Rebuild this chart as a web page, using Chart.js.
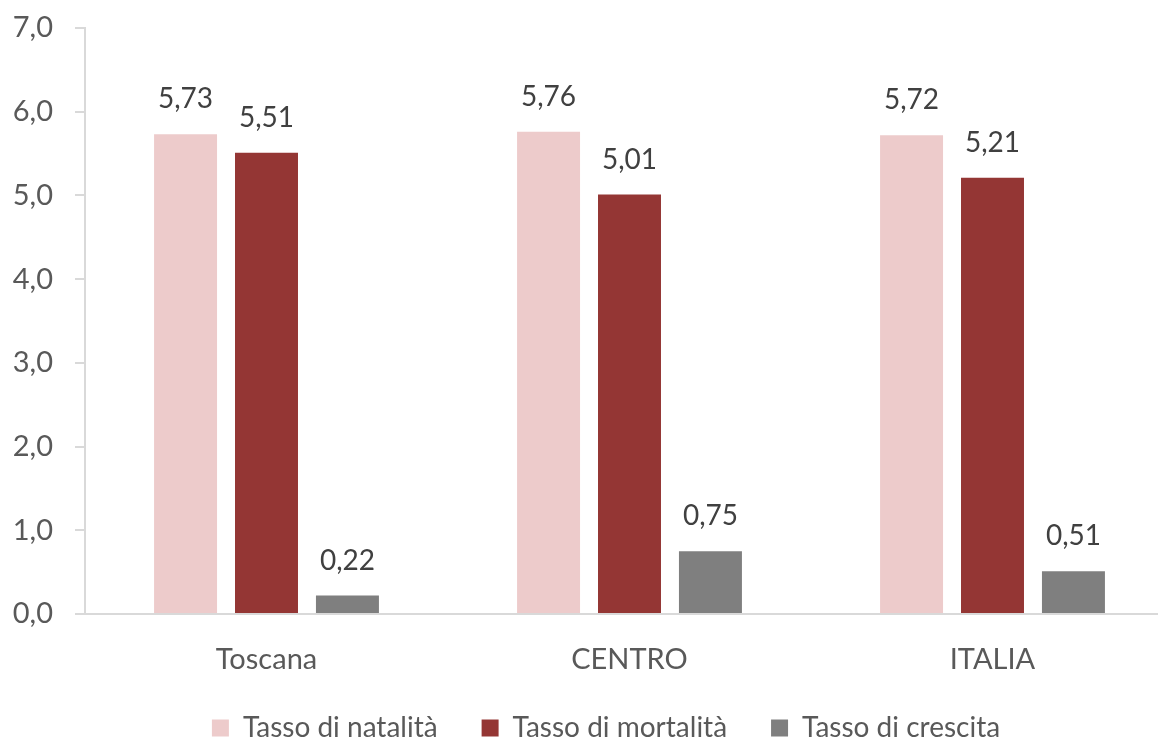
<!DOCTYPE html>
<html>
<head>
<meta charset="utf-8">
<script src="https://cdn.jsdelivr.net/npm/chart.js@4.4.1/dist/chart.umd.min.js"></script>
<style>
  html, body { margin: 0; padding: 0; background: #ffffff; overflow: hidden; }
  #wrap { width: 1158px; height: 742px; overflow: hidden; position: relative; }
  canvas { display: block; }
</style>
</head>
<body>
<div id="wrap"><canvas id="chart" width="1212" height="752"></canvas></div>
<script>
// Demographic rates per area
const categories = ['Toscana', 'CENTRO', 'ITALIA'];
const seriesNames = ['Tasso di natalità', 'Tasso di mortalità', 'Tasso di crescita'];
const natalita = [5.73, 5.76, 5.72];
const mortalita = [5.51, 5.01, 5.21];
const crescita = [0.22, 0.75, 0.51];
const yTicks = [0, 1, 2, 3, 4, 5, 6, 7];

const FONT = 'Lato, "Open Sans", sans-serif';
const fmt = (v, d) => v.toFixed(d).replace('.', ',');

// Draws each bar's value above it, using the bar element's own position
const valueLabels = {
  id: 'valueLabels',
  afterDatasetsDraw(chart) {
    const ctx = chart.ctx;
    ctx.save();
    ctx.font = '28px ' + FONT;
    ctx.fillStyle = '#404040';
    ctx.textAlign = 'center';
    ctx.textBaseline = 'alphabetic';
    chart.data.datasets.forEach((ds, i) => {
      chart.getDatasetMeta(i).data.forEach((bar, j) => {
        ctx.fillText(fmt(ds.data[j], 2), bar.x, bar.y - 26);
      });
    });
    ctx.restore();
  }
};

new Chart(document.getElementById('chart'), {
  type: 'bar',
  data: {
    labels: categories,
    datasets: [
      { label: seriesNames[0], data: natalita, backgroundColor: '#EDCBCB' },
      { label: seriesNames[1], data: mortalita, backgroundColor: '#943634' },
      { label: seriesNames[2], data: crescita, backgroundColor: '#7F7F7F' }
    ]
  },
  options: {
    responsive: false,
    animation: false,
    devicePixelRatio: 1,
    categoryPercentage: 0.669,
    barPercentage: 0.778,
    layout: { padding: { left: 0, right: 0, top: 28, bottom: 0 } },
    plugins: {
      legend: {
        position: 'bottom',
        labels: {
          font: { family: FONT, size: 28 },
          color: '#595959',
          boxWidth: 17,
          boxHeight: 17,
          padding: 44
        }
      },
      tooltip: { enabled: false }
    },
    scales: {
      x: {
        afterFit(scale) { scale.height = 56; },
        grid: { display: false },
        border: { display: true, color: '#D9D9D9', width: 2 },
        ticks: { font: { family: FONT, size: 29 }, color: '#595959', padding: 20 }
      },
      y: {
        min: 0,
        max: 7,
        afterBuildTicks(scale) { scale.ticks = yTicks.map(v => ({ value: v })); },
        afterFit(scale) { scale.width = 85; scale.paddingTop = 0; scale.paddingBottom = 0; },
        grid: { display: true, drawOnChartArea: false, drawTicks: true, tickLength: 10, color: '#D9D9D9', lineWidth: 2 },
        border: { display: true, color: '#D9D9D9', width: 2 },
        ticks: {
          font: { family: FONT, size: 29 },
          color: '#595959',
          padding: 22,
          callback: v => fmt(v, 1)
        }
      },
      // empty margin on the right side of the plot
      side: {
        position: 'right',
        afterFit(scale) { scale.width = 38; scale.paddingTop = 0; scale.paddingBottom = 0; },
        grid: { display: false },
        border: { display: false },
        ticks: { display: false }
      }
    }
  },
  plugins: [valueLabels]
});
</script>
</body>
</html>
